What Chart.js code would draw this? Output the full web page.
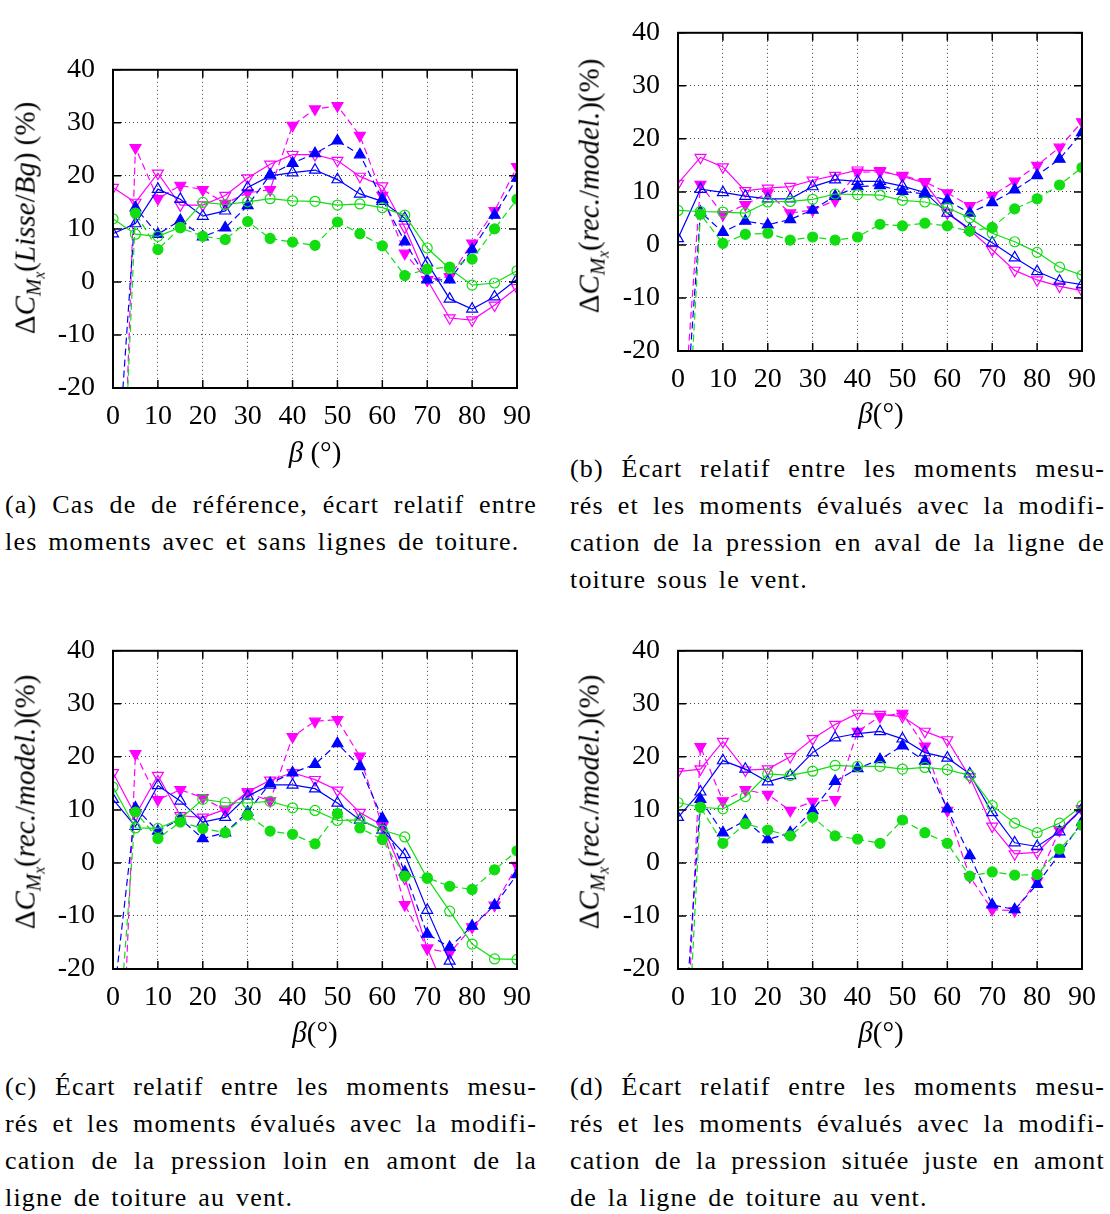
<!DOCTYPE html>
<html><head><meta charset="utf-8">
<script src="https://cdn.jsdelivr.net/npm/chart.js@4.4.0/dist/chart.umd.min.js"></script>
<style>
html,body{margin:0;padding:0;background:#fff;}
body{width:1110px;height:1214px;position:relative;overflow:hidden;color:#000;}
canvas{position:absolute;}
.cap{position:absolute;font-size:26px;line-height:37px;letter-spacing:1.2px;word-spacing:3px;}
.cap div{text-align:justify;text-align-last:justify;white-space:normal;}
.cap div.last{text-align:left;text-align-last:left;}
.yt{position:absolute;font-size:29px;white-space:nowrap;transform:translate(-50%,-50%) rotate(-90deg);line-height:1;}
.xt{position:absolute;font-size:29px;white-space:nowrap;transform:translate(-50%,-50%);line-height:1;}
.s1{font-size:72%;vertical-align:-0.3em;}
.s2{font-size:75%;vertical-align:-0.25em;}
</style></head>
<body style="font-family:'Liberation Serif'">
<canvas id="ca"></canvas><canvas id="cb"></canvas><canvas id="cc"></canvas><canvas id="cd"></canvas>

<div class="yt" style="font-family:'Liberation Serif';left:29px;top:218px">Δ<i>C</i><span class="s1"><i>M</i><span class="s2"><i>x</i></span></span>(<i>Lisse</i>/<i>Bg</i>) (%)</div>
<div class="yt" style="font-family:'Liberation Serif';left:593px;top:186px">Δ<i>C</i><span class="s1"><i>M</i><span class="s2"><i>x</i></span></span>(<i>rec.</i>/<i>model.</i>)(%)</div>
<div class="yt" style="font-family:'Liberation Serif';left:29px;top:802px">Δ<i>C</i><span class="s1"><i>M</i><span class="s2"><i>x</i></span></span>(<i>rec.</i>/<i>model.</i>)(%)</div>
<div class="yt" style="font-family:'Liberation Serif';left:593px;top:802px">Δ<i>C</i><span class="s1"><i>M</i><span class="s2"><i>x</i></span></span>(<i>rec.</i>/<i>model.</i>)(%)</div>

<div class="xt" style="font-family:'Liberation Serif';left:315px;top:452px"><i>β</i> (°)</div>
<div class="xt" style="font-family:'Liberation Serif';left:881px;top:413px"><i>β</i>(°)</div>
<div class="xt" style="font-family:'Liberation Serif';left:315px;top:1032px"><i>β</i>(°)</div>
<div class="xt" style="font-family:'Liberation Serif';left:881px;top:1032px"><i>β</i>(°)</div>

<div class="cap" style="font-family:'Liberation Serif';left:5px;top:486px;width:532px">
<div>(a) Cas de de référence, écart relatif entre</div>
<div class="last">les moments avec et sans lignes de toiture.</div>
</div>
<div class="cap" style="font-family:'Liberation Serif';left:570px;top:450px;width:535px">
<div>(b) Écart relatif entre les moments mesu-</div>
<div>rés et les moments évalués avec la modifi-</div>
<div>cation de la pression en aval de la ligne de</div>
<div class="last">toiture sous le vent.</div>
</div>
<div class="cap" style="font-family:'Liberation Serif';left:5px;top:1068px;width:532px">
<div>(c) Écart relatif entre les moments mesu-</div>
<div>rés et les moments évalués avec la modifi-</div>
<div>cation de la pression loin en amont de la</div>
<div class="last">ligne de toiture au vent.</div>
</div>
<div class="cap" style="font-family:'Liberation Serif';left:570px;top:1068px;width:535px">
<div>(d) Écart relatif entre les moments mesu-</div>
<div>rés et les moments évalués avec la modifi-</div>
<div>cation de la pression située juste en amont</div>
<div class="last">de la ligne de toiture au vent.</div>
</div>

<script>
const betas = [0,5,10,15,20,25,30,35,40,45,50,55,60,65,70,75,80,85,90];
const yTicks = [-20,-10,0,10,20,30,40];
const xTicks = [0,10,20,30,40,50,60,70,80,90];

// (a) reference case
const aMagSolid   = [17.8,15.0,20.5,14.5,14.5,16.3,19.6,22.2,24.0,24.0,22.9,19.9,18.1,10.3,0.4,-6.8,-7.2,-4.4,-1.1];
const aMagDash    = [-100,25.3,15.7,18.2,17.4,14.8,16.8,17.4,29.5,32.6,33.2,27.6,16.3,5.4,0.4,1.0,7.3,13.4,21.7];
const aBlueSolid  = [9.1,11.0,17.5,15.6,12.4,13.4,17.8,20.0,20.6,21.1,19.3,16.6,15.2,12.0,3.6,-3.2,-5.1,-2.8,0.5];
const aBlueDash   = [-47,14.0,9.0,11.6,8.5,10.2,14.4,20.2,22.4,24.2,26.6,24.0,15.6,7.6,0.4,0.4,6.1,12.6,19.6];
const aGreenSolid = [11.9,9.0,8.6,10.3,15.0,14.6,15.1,15.7,15.3,15.2,14.5,14.7,14.0,12.6,6.4,2.5,-0.6,-0.2,2.1];
const aGreenDash  = [-84,13.0,6.1,10.2,8.6,8.0,11.4,8.2,7.5,6.9,11.3,9.1,6.8,1.2,2.4,2.8,4.3,10.0,15.6];

// (b)
const bMagSolid   = [11.6,16.5,14.7,10.2,10.7,11.0,12.2,13.1,14.1,14.0,12.9,11.7,6.0,2.8,-0.9,-4.8,-6.6,-7.8,-8.6];
const bMagDash    = [-47,11.4,5.7,7.6,9.8,6.0,6.6,8.4,13.7,13.8,13.1,11.9,9.8,7.4,9.3,12.0,15.0,18.4,23.2];
const bBlueSolid  = [1.2,10.5,9.9,9.2,8.7,8.7,11.0,12.3,12.0,12.0,11.1,9.9,6.0,3.0,0.4,-2.4,-5.0,-6.8,-7.5];
const bBlueDash   = [-53,6.2,2.4,4.5,3.8,4.8,6.6,9.2,11.0,11.2,10.1,9.6,8.4,6.0,8.0,10.4,13.1,16.2,21.2];
const bGreenSolid = [6.5,6.3,6.2,6.0,8.1,8.2,8.6,9.6,9.5,9.4,8.4,8.1,7.0,5.1,2.2,0.6,-1.4,-4.2,-5.7];
const bGreenDash  = [-70,5.8,0.3,2.0,2.2,0.9,1.5,0.9,1.5,3.9,3.6,4.1,3.6,2.6,3.3,6.8,8.7,11.3,14.6];

// (c)
const cMagSolid   = [17.0,9.0,16.5,8.9,8.6,10.1,13.4,15.6,17.0,15.7,13.7,9.5,7.1,-2.9,-16.1,-26,-28,-26,-24];
const cMagDash    = [-81,20.6,11.9,13.8,12.3,9.9,13.2,11.7,23.8,26.7,27.0,20.1,6.9,-7.9,-16.1,-17.0,-12.1,-8.0,-0.5];
const cBlueSolid  = [12.0,6.9,14.6,11.7,7.7,8.6,12.6,14.7,14.7,14.0,11.3,8.1,6.2,1.6,-8.9,-18.5,-27,-25,-23];
const cBlueDash   = [-27,10.4,6.0,8.3,4.6,5.7,9.6,15.0,17.0,18.6,22.5,18.2,8.4,-1.7,-13.4,-15.9,-11.9,-8.0,-2.2];
const cGreenSolid = [14.3,6.6,6.5,8.3,12.0,11.4,11.3,11.6,10.4,9.9,8.0,8.1,6.2,4.9,-2.9,-9.1,-15.3,-18.1,-18.2];
const cGreenDash  = [-47,9.6,4.6,7.7,6.5,5.7,9.0,6.0,5.4,3.6,9.3,6.6,4.4,-2.5,-2.8,-4.4,-5.0,-1.3,2.3];

// (d)
const dMagSolid   = [17.2,17.7,22.9,17.5,17.7,20.0,23.4,26.1,28.2,28.0,27.6,24.8,23.2,16.2,6.9,1.7,2.0,6.2,10.2];
const dMagDash    = [-71,21.9,11.7,13.8,12.9,9.9,11.6,11.9,24.8,27.6,28.2,22.0,9.9,-2.6,-8.8,-9.0,-3.4,6.2,10.0];
const dBlueSolid  = [8.6,13.4,19.3,17.7,15.3,16.5,20.8,23.6,24.4,24.8,23.4,20.8,19.8,16.8,9.5,3.8,3.1,5.9,10.2];
const dBlueDash   = [-50,12.0,5.7,8.0,4.4,5.7,9.9,15.4,17.8,19.5,22.1,19.2,10.2,1.4,-7.9,-8.8,-4.0,1.7,7.7];
const dGreenSolid = [11.4,10.5,10.2,12.5,16.8,16.5,17.3,18.4,18.2,18.2,17.7,18.0,17.6,16.5,10.8,7.5,5.7,7.5,10.8];
const dGreenDash  = [-70,10.5,3.7,7.4,6.2,5.1,8.6,5.1,4.5,3.7,8.1,5.7,3.7,-2.5,-1.7,-2.3,-2.2,2.6,7.1];

const MAG='#ff00ff', BLUE='#0000ff', GREEN='#11dd11';
Chart.defaults.font.family = 'Liberation Serif';

function ds(vals, color, dashed, shape, filled){
  return {
    data: betas.map((b,i)=>({x:b,y:vals[i]})),
    borderColor: color, borderWidth: 1.2, borderDash: dashed?[7,4]:[],
    pointStyle: shape==='circle'?'circle':'triangle',
    pointRotation: shape==='down'?180:0,
    pointRadius: shape==='circle'?5:6.3,
    pointBorderColor: color,
    pointBackgroundColor: filled?color:'rgba(0,0,0,0)',
    pointBorderWidth: 1.2,
    fill:false, tension:0
  };
}

const framePlugin = {
  id:'frame',
  afterDraw(chart){
    const {ctx, chartArea:a, scales:{x,y}} = chart;
    ctx.save(); ctx.strokeStyle='#000'; ctx.lineWidth=1.5;
    const L=8;
    ctx.beginPath();
    x.ticks.forEach(t=>{const px=x.getPixelForValue(t.value); ctx.moveTo(px,a.bottom); ctx.lineTo(px,a.bottom-L); ctx.moveTo(px,a.top); ctx.lineTo(px,a.top+L);});
    y.ticks.forEach(t=>{const py=y.getPixelForValue(t.value); ctx.moveTo(a.left,py); ctx.lineTo(a.left+L,py); ctx.moveTo(a.right,py); ctx.lineTo(a.right-L,py);});
    ctx.stroke();
    ctx.lineWidth=2; ctx.strokeRect(a.left,a.top,a.right-a.left,a.bottom-a.top);
    ctx.restore();
  }
};

function makeChart(id, L, T, R, B, sets){
  const PL=90, PT=20, PR=25, PB=50;
  const cv=document.getElementById(id);
  cv.width=(R-L)+PL+PR; cv.height=(B-T)+PT+PB;
  cv.style.left=(L-PL)+'px'; cv.style.top=(T-PT)+'px';
  cv.style.width=cv.width+'px'; cv.style.height=cv.height+'px';
  const tickFont={family:'Liberation Serif', size:28};
  new Chart(cv,{
    type:'line',
    data:{datasets:[
      ds(sets[5],GREEN,true,'circle',true),
      ds(sets[4],GREEN,false,'circle',false),
      ds(sets[3],BLUE,true,'up',true),
      ds(sets[2],BLUE,false,'up',false),
      ds(sets[1],MAG,true,'down',true),
      ds(sets[0],MAG,false,'down',false)
    ]},
    options:{
      responsive:false, animation:false, devicePixelRatio:1,
      layout:{padding:{left:0,top:PT,right:PR,bottom:0}, autoPadding:false},
      plugins:{legend:{display:false}, tooltip:{enabled:false}},
      scales:{
        x:{type:'linear', min:0, max:90,
           afterFit:s=>{s.height=PB;},
           afterBuildTicks:s=>{s.ticks=xTicks.map(v=>({value:v}));},
           ticks:{font:tickFont, color:'#000', padding:12, maxRotation:0, autoSkip:false},
           grid:{color:'#444', lineWidth:1, drawTicks:false},
           border:{display:false, dash:[1,3]}},
        y:{type:'linear', min:-20, max:40,
           afterFit:s=>{s.width=PL;},
           afterBuildTicks:s=>{s.ticks=yTicks.map(v=>({value:v}));},
           ticks:{font:tickFont, color:'#000', padding:18, autoSkip:false},
           grid:{color:'#444', lineWidth:1, drawTicks:false},
           border:{display:false, dash:[1,3]}}
      }
    },
    plugins:[framePlugin]
  });
}

makeChart('ca',113,55,518,388,[aMagSolid,aMagDash,aBlueSolid,aBlueDash,aGreenSolid,aGreenDash]);
makeChart('cb',678,18,1083,351,[bMagSolid,bMagDash,bBlueSolid,bBlueDash,bGreenSolid,bGreenDash]);
makeChart('cc',113,636,518,969,[cMagSolid,cMagDash,cBlueSolid,cBlueDash,cGreenSolid,cGreenDash]);
makeChart('cd',678,636,1083,969,[dMagSolid,dMagDash,dBlueSolid,dBlueDash,dGreenSolid,dGreenDash]);
</script>
</body></html>
